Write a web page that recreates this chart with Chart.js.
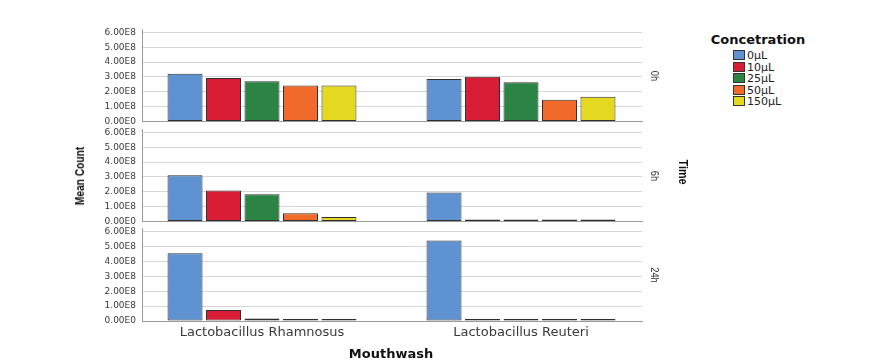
<!DOCTYPE html>
<html><head><meta charset="utf-8">
<script src="https://cdn.jsdelivr.net/npm/chart.js@4.4.1/dist/chart.umd.min.js"></script>
<style>
html,body{margin:0;padding:0;background:#fff;}
#wrap{position:relative;width:886px;height:360px;overflow:hidden;font-family:'DejaVu Sans',sans-serif;}
.panel{position:absolute;left:0;}
.lbl{position:absolute;white-space:nowrap;line-height:1;}
.sw{position:absolute;width:12px;height:10px;box-sizing:border-box;border:1px solid #333;}
</style></head><body>
<div id="wrap"></div>
<script>
// ---- data ----
const categories = ['Lactobacillus Rhamnosus', 'Lactobacillus Reuteri'];
const concentrations = ['0μL', '10μL', '25μL', '50μL', '150μL'];
const timePanels = ['0h', '6h', '24h'];
const yTickValues = [0, 1e8, 2e8, 3e8, 4e8, 5e8, 6e8];
const yTickLabels = ['0.00E0', '1.00E8', '2.00E8', '3.00E8', '4.00E8', '5.00E8', '6.00E8'];
// values per concentration (0, 10, 25, 50, 150 μL)
const rhamnosus_0h  = [3.22e8, 2.93e8, 2.71e8, 2.42e8, 2.42e8];
const reuteri_0h    = [2.87e8, 3.02e8, 2.64e8, 1.47e8, 1.67e8];
const rhamnosus_6h  = [3.11e8, 2.09e8, 1.84e8, 0.56e8, 0.31e8];
const reuteri_6h    = [1.96e8, 0.01e8, 0.01e8, 0.01e8, 0.01e8];
const rhamnosus_24h = [4.54e8, 0.74e8, 0.16e8, 0.13e8, 0.09e8];
const reuteri_24h   = [5.39e8, 0.005e8, 0.005e8, 0.005e8, 0.005e8];
const panelData = [[rhamnosus_0h, reuteri_0h], [rhamnosus_6h, reuteri_6h], [rhamnosus_24h, reuteri_24h]];
const seriesColors = ['#5f92d0', '#d91d36', '#2b8444', '#f16a2b', '#e4d820'];

// ---- layout ----
const wrap = document.getElementById('wrap');
const panelTops = [19, 119, 218];   // canvas tops
const panelHeights = [113, 113, 142];
const xAxisHeights = [10, 10, 39];

panelData.forEach((pd, p) => {
  const div = document.createElement('div');
  div.className = 'panel';
  div.style.top = panelTops[p] + 'px';
  const cv = document.createElement('canvas');
  cv.width = 700; cv.height = panelHeights[p];
  cv.style.width = '700px'; cv.style.height = panelHeights[p] + 'px';
  div.appendChild(cv);
  wrap.appendChild(div);
  const last = p === panelData.length - 1;
  new Chart(cv, {
    type: 'bar',
    data: {
      datasets: concentrations.map((c, j) => ({
        label: c,
        data: categories.map((cat, i) => ({ x: i, y: pd[i][j] })),
        backgroundColor: seriesColors[j],
        borderColor: '#2f2f2f',
        borderWidth: 1,
        borderSkipped: false,
        minBarLength: 2,
        categoryPercentage: 0.743,
        barPercentage: 0.909
      }))
    },
    options: {
      responsive: false,
      animation: false,
      devicePixelRatio: 1,
      layout: { padding: { top: 10, right: 58, left: 0, bottom: 0 } },
      plugins: { legend: { display: false }, tooltip: { enabled: false } },
      scales: {
        x: {
          type: 'linear',
          offset: false,
          bounds: 'data',
          min: -120 / 259,
          max: 1 + 121 / 259,
          grid: { display: false, drawTicks: false, offset: false },
          border: { display: true, color: '#9a9a9a', width: 1 },
          afterBuildTicks: (s) => { s.ticks = categories.map((c, i) => ({ value: i })); },
          ticks: {
            display: last,
            autoSkip: false,
            maxRotation: 0,
            padding: 4,
            color: '#3a3a3a',
            font: { family: 'DejaVu Sans', size: 13 },
            callback: (v) => (categories[v] !== undefined ? categories[v] : '')
          },
          afterFit: (s) => { s.height = xAxisHeights[p]; }
        },
        y: {
          type: 'linear',
          min: 0,
          max: 6.2e8,
          bounds: 'data',
          grid: { color: '#d6d6d6', drawTicks: false, lineWidth: 1 },
          border: { display: true, color: '#9a9a9a', width: 1 },
          afterBuildTicks: (s) => { s.ticks = yTickValues.map((v) => ({ value: v })); },
          ticks: {
            autoSkip: false,
            padding: 6,
            color: '#3a3a3a',
            font: { family: 'DejaVu Sans', size: 9, lineHeight: 1 },
            callback: (v) => { const k = yTickValues.indexOf(v); return k >= 0 ? yTickLabels[k] : ''; }
          },
          afterFit: (s) => { s.width = 142; }
        }
      }
    }
  });
});

// ---- text labels ----
function addLabel(text, x, y, css, transform) {
  const d = document.createElement('div');
  d.className = 'lbl';
  d.textContent = text;
  d.style.left = x + 'px';
  d.style.top = y + 'px';
  Object.assign(d.style, css);
  d.style.transform = 'translate(-50%,-50%) ' + (transform || '');
  wrap.appendChild(d);
}
const facetCenters = [75.5, 175.5, 274.5];
timePanels.forEach((t, i) => addLabel(t, 655, facetCenters[i],
  { font: '11px "Liberation Sans", Arial, sans-serif', color: '#333' }, 'rotate(90deg) scaleX(0.85)'));
addLabel('Time', 683, 172, { font: 'bold 12px "Liberation Sans", Arial, sans-serif', color: '#111' }, 'rotate(90deg) scaleX(0.9)');
addLabel('Mean Count', 80, 176, { font: 'bold 12px "Liberation Sans", Arial, sans-serif', color: '#111' }, 'rotate(-90deg) scaleX(0.85)');
addLabel('Mouthwash', 391, 352.5, { font: 'bold 13px "DejaVu Sans", sans-serif', color: '#111' });

// legend
addLabel('Concetration', 758, 39, { font: 'bold 13px "DejaVu Sans", sans-serif', color: '#111' });
const legendRows = [55, 66.5, 78, 89.5, 101];
concentrations.forEach((c, j) => {
  const sw = document.createElement('div');
  sw.className = 'sw';
  sw.style.left = '733px';
  sw.style.top = (legendRows[j] - 5) + 'px';
  sw.style.background = seriesColors[j];
  wrap.appendChild(sw);
  const t = document.createElement('div');
  t.className = 'lbl';
  t.textContent = c;
  t.style.left = '747px';
  t.style.top = (legendRows[j] - 6) + 'px';
  t.style.font = '11px "DejaVu Sans", sans-serif';
  t.style.color = '#222';
  wrap.appendChild(t);
});
</script>
</body></html>
